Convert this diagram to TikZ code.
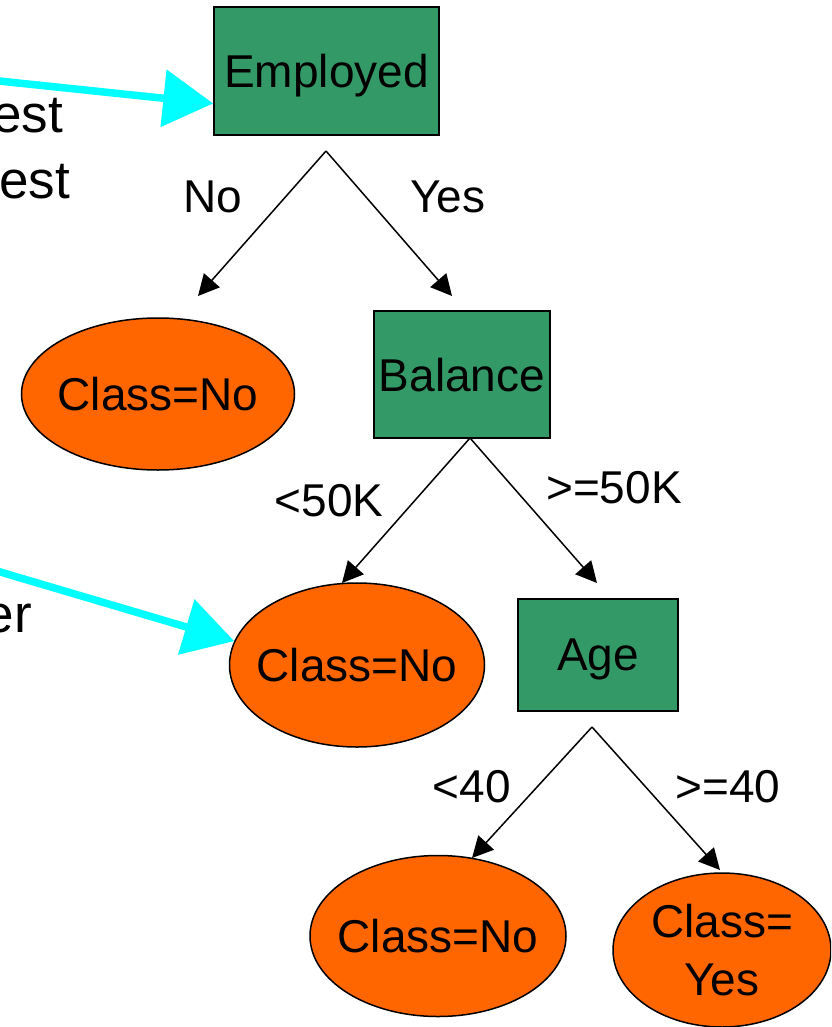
\documentclass[tikz,border=0pt]{standalone}
\usepackage{fontspec}
\setmainfont{Liberation Sans}
\usepackage{tikz}
\usetikzlibrary{arrows.meta, shapes.geometric}
\definecolor{testblock}{RGB}{51, 153, 102}
\definecolor{leafblock}{RGB}{255, 102, 0}
\definecolor{hintcyan}{RGB}{0, 255, 255}

\begin{document}
\begin{tikzpicture}[x=1pt, y=-1pt,
		every node/.style={font=\fontsize{46}{58}\selectfont, inner sep=0pt},
		testnode/.style={rectangle, draw=black, line width=1.5pt, fill=testblock, text depth=0pt},
		leafnode/.style={ellipse, draw=black, line width=1.5pt, fill=leafblock, text depth=0pt, inner xsep=-20pt},
		branch/.style={line width=1.5pt, -{Triangle[length=21pt, width=21pt]}},
		hint/.style={line width=7.5pt, hintcyan, -{Triangle[length=50pt, width=56pt]}},
		cuttext/.style={anchor=base east, font=\fontsize{53}{64}\selectfont}]
		\useasboundingbox (0,0) rectangle (831,1027);
		\clip (0,0) rectangle (831,1027);

		\node[testnode, minimum width=225pt, minimum height=128pt] (employed) at (326.5,71) {Employed};
		\node[testnode, minimum width=176pt, minimum height=127pt] (balance) at (462,374.5) {Balance};
		\node[testnode, minimum width=160pt, minimum height=112pt] (age) at (598,655) {Age};

		\node[leafnode, minimum width=273pt, minimum height=152pt] (leafnoA) at (158,394) {Class=No};
		\node[leafnode, minimum width=255pt, minimum height=164pt] (leafnoB) at (357,665) {Class=No};
		\node[leafnode, minimum width=256pt, minimum height=161pt] (leafnoC) at (438,936) {Class=No};
		\node[leafnode, minimum width=218pt, minimum height=154pt, align=center] (leafyes) at (722,950) {Class=\\Yes};

		\coordinate (forkemp) at (326,151);
		\coordinate (forkbal) at (470,438);
		\coordinate (forkage) at (592,727);
		\coordinate (toleafA) at (198,296);
		\coordinate (tobal) at (452,296);
		\coordinate (toleafB) at (342,583);
		\coordinate (toage) at (597,583);
		\coordinate (toleafC) at (472,858);
		\coordinate (toyes) at (720,870);

		\draw[branch] (forkemp) -- (toleafA);
		\draw[branch] (forkemp) -- (tobal);
		\draw[branch] (forkbal) -- (toleafB);
		\draw[branch] (forkbal) -- (toage);
		\draw[branch] (forkage) -- (toleafC);
		\draw[branch] (forkage) -- (toyes);

		\node[anchor=base] (lblno) at (213,212) {No};
		\node[anchor=base] (lblyes) at (448,212) {Yes};
		\node[anchor=base] (lbllow) at (329,516) {<50K};
		\node[anchor=base] (lblhigh) at (614,503) {>=50K};
		\node[anchor=base] (lblyoung) at (472,802) {<40};
		\node[anchor=base] (lblold) at (728,802) {>=40};

		\node[cuttext] (cutA) at (63,133) {est};
		\node[cuttext] (cutB) at (70,198) {est};
		\node[cuttext] (cutC) at (32,632) {er};

		\coordinate (hintA) at (-20,79);
		\coordinate (hintB) at (-20,566);
		\draw[hint] (hintA) -- (employed.196);
		\draw[hint] (hintB) -- (leafnoB.169);
	\end{tikzpicture}
\end{document}
